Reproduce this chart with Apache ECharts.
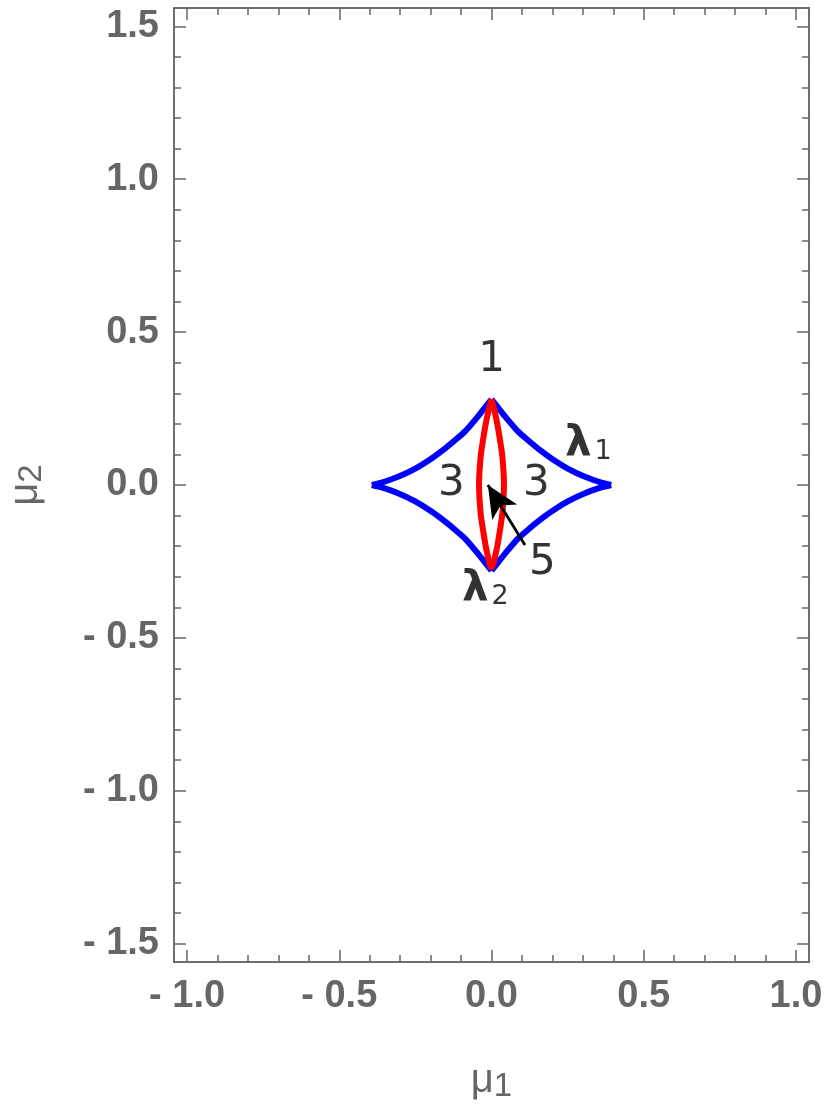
<!DOCTYPE html>
<html>
<head>
<meta charset="utf-8">
<script src="https://cdn.jsdelivr.net/npm/echarts@6/dist/echarts.min.js"></script>
<style>
  html, body { margin: 0; padding: 0; background: #fff; }
  #chart { width: 830px; height: 1113px; }
</style>
</head>
<body>
<div id="chart"></div>
<script>
// blue caustic, one quadrant (top cusp -> right cusp)
const causticX = [0, 0.021, 0.043, 0.086, 0.119, 0.152, 0.197, 0.252, 0.307, 0.361, 0.393];
const causticY = [0.28, 0.254, 0.226, 0.176, 0.147, 0.12, 0.087, 0.053, 0.027, 0.008, 0];

// red critical lens, right half (top tip -> bottom tip)
const lensY = [0.28, 0.25, 0.2, 0.14, 0.09, 0, -0.09, -0.14, -0.2, -0.25, -0.275];
const lensX = [0, 0.008, 0.019, 0.029, 0.036, 0.041, 0.036, 0.029, 0.019, 0.008, 0];

// ticks
const majorX = [-1, -0.5, 0, 0.5, 1];
const minorX = [-1, -0.9, -0.8, -0.7, -0.6, -0.5, -0.4, -0.3, -0.2, -0.1, 0,
  0.1, 0.2, 0.3, 0.4, 0.5, 0.6, 0.7, 0.8, 0.9, 1];
const majorY = [-1.5, -1, -0.5, 0, 0.5, 1, 1.5];
const minorY = [-1.5, -1.4, -1.3, -1.2, -1.1, -1, -0.9, -0.8, -0.7, -0.6, -0.5,
  -0.4, -0.3, -0.2, -0.1, 0, 0.1, 0.2, 0.3, 0.4, 0.5, 0.6, 0.7, 0.8, 0.9, 1,
  1.1, 1.2, 1.3, 1.4, 1.5];

// region labels
const noteText = ['{n|1}', '{n|3}', '{n|3}', '{n|5}', '{l|λ}{s|1}', '{l|λ}{s|2}'];
const noteX = [0, -0.132, 0.147, 0.167, 0.318, -0.02];
const noteY = [0.41, 0.003, 0.003, -0.254, 0.13, -0.343];

// arrow pointing into the lens
const arrowFrom = [0.11, -0.196];
const arrowTo = [-0.012, 0.0];

const X_MIN = -1.043, X_MAX = 1.043;
const Y_MIN = -1.56, Y_MAX = 1.56;

const frameColor = '#666';
const tickFont = { color: '#666', fontSize: 38, fontWeight: 'bold', fontFamily: 'Liberation Sans' };
const fmt = v => (v < 0 ? '- ' : '') + Math.abs(v).toFixed(1);

const chart = echarts.init(document.getElementById('chart'));

const baseAxis = {
  type: 'value',
  axisLine: { show: true, onZero: false, lineStyle: { color: frameColor, width: 1.5 } },
  splitLine: { show: false },
};

function xAxis(position, ticks, len, labels) {
  return Object.assign({}, baseAxis, {
    min: X_MIN, max: X_MAX, position: position,
    axisTick: { show: true, inside: true, length: len, customValues: ticks,
      lineStyle: { color: frameColor, width: 1.5 } },
    axisLabel: labels
      ? Object.assign({ show: true, margin: 16, customValues: ticks, formatter: fmt }, tickFont)
      : { show: false },
  });
}
function yAxis(position, ticks, len, labels) {
  return Object.assign({}, baseAxis, {
    min: Y_MIN, max: Y_MAX, position: position,
    axisTick: { show: true, inside: true, length: len, customValues: ticks,
      lineStyle: { color: frameColor, width: 1.5 } },
    axisLabel: labels
      ? Object.assign({ show: true, margin: 15, customValues: ticks, formatter: fmt }, tickFont)
      : { show: false },
  });
}

const nameRich = {
  m: { fontSize: 40, color: '#666', fontFamily: 'Liberation Sans' },
  s: { fontSize: 33, color: '#666', fontFamily: 'Liberation Sans', padding: [12, 0, 0, 0] },
};

const xAxes = [
  Object.assign(xAxis('bottom', majorX, 12, true), {
    name: '{m|μ}{s|1}', nameLocation: 'middle', nameGap: 96,
    nameTextStyle: { rich: nameRich },
  }),
  xAxis('bottom', minorX, 7, false),
  xAxis('top', majorX, 12, false),
  xAxis('top', minorX, 7, false),
];
const yAxes = [
  Object.assign(yAxis('left', majorY, 12, true), {
    name: '{m|μ}{s|2}', nameLocation: 'middle', nameGap: 126,
    nameTextStyle: { rich: nameRich },
  }),
  yAxis('left', minorY, 7, false),
  yAxis('right', majorY, 12, false),
  yAxis('right', minorY, 7, false),
];

// four caustic arcs, each quadrant its own series so the cusps stay sharp
const quadSigns = [[1, 1], [-1, 1], [-1, -1], [1, -1]];
const causticSeries = quadSigns.map(([sx, sy]) => ({
  type: 'line',
  data: causticX.map((x, i) => [sx * x, sy * causticY[i]]),
  smooth: 0.15,
  showSymbol: false,
  lineStyle: { color: '#0000ff', width: 6, cap: 'butt' },
  silent: true,
  z: 3,
}));

const lensSeries = [1, -1].map(sx => ({
  type: 'line',
  data: lensX.map((x, i) => [sx * x, lensY[i]]),
  smooth: 0.3,
  showSymbol: false,
  lineStyle: { color: '#ff0000', width: 6 },
  silent: true,
  z: 4,
}));

const noteSeries = {
  type: 'scatter',
  symbolSize: 1,
  itemStyle: { color: 'rgba(0,0,0,0)' },
  silent: true,
  z: 6,
  data: noteX.map((x, i) => ({ value: [x, noteY[i]], label: { formatter: noteText[i] } })),
  label: {
    show: true,
    position: 'inside',
    rich: {
      n: { fontSize: 42, color: '#000', fontFamily: 'DejaVu Sans' },
      l: { fontSize: 42, color: '#000', fontWeight: 'bold', fontFamily: 'DejaVu Sans' },
      s: { fontSize: 27, color: '#000', fontFamily: 'DejaVu Sans', padding: [14, 0, 0, 3] },
    },
  },
};

const arrowSeries = {
  type: 'line',
  data: [],
  silent: true,
  z: 7,
  markLine: {
    silent: true,
    symbol: ['none', 'arrow'],
    symbolSize: [22, 32],
    label: { show: false },
    lineStyle: { color: '#000', width: 2.8, type: 'solid' },
    data: [[{ coord: arrowFrom }, { coord: arrowTo }]],
    animation: false,
  },
};

chart.setOption({
  animation: false,
  backgroundColor: '#fff',
  grid: { left: 174, right: 21, top: 8, bottom: 151, containLabel: false, outerBoundsMode: 'none' },
  xAxis: xAxes,
  yAxis: yAxes,
  series: causticSeries.concat(lensSeries, [noteSeries, arrowSeries]),
});
</script>
</body>
</html>
